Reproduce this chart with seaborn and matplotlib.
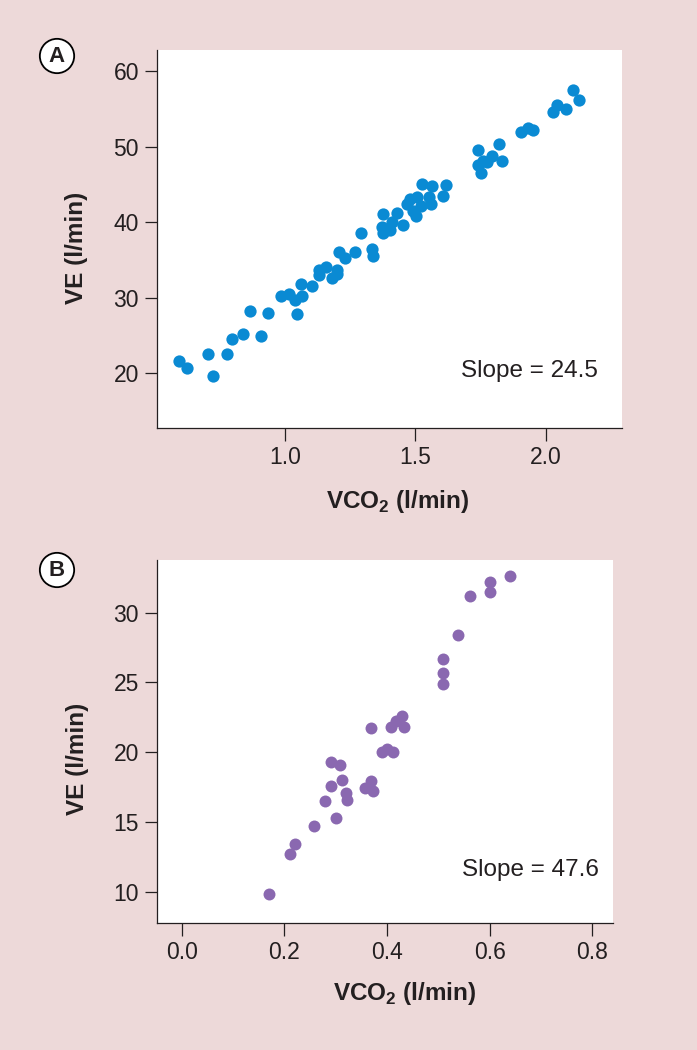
import matplotlib
matplotlib.use("Agg")
import matplotlib.pyplot as plt
import seaborn as sns
import pandas as pd

# panel A data
vco2_a = [0.596, 0.626, 0.724, 0.708, 0.778, 0.798, 0.840, 0.867, 0.908, 0.937,
          0.987, 1.018, 1.038, 1.066, 1.048, 1.064, 1.106, 1.130, 1.130, 1.158,
          1.182, 1.200, 1.200, 1.207, 1.231, 1.268, 1.293, 1.333, 1.339, 1.377,
          1.374, 1.377, 1.403, 1.412, 1.430, 1.452, 1.478, 1.469, 1.492, 1.501,
          1.508, 1.520, 1.524, 1.553, 1.559, 1.565, 1.605, 1.617, 1.739, 1.739,
          1.750, 1.760, 1.775, 1.795, 1.821, 1.830, 1.904, 1.930, 1.951, 2.028,
          2.041, 2.077, 2.102, 2.127]
ve_a = [21.6, 20.7, 19.7, 22.6, 22.5, 24.5, 25.2, 28.2, 24.9, 28.0,
        30.2, 30.5, 29.7, 30.2, 27.9, 31.8, 31.6, 33.0, 33.7, 34.1,
        32.6, 33.1, 33.7, 36.0, 35.2, 36.0, 38.5, 36.5, 35.5, 41.1,
        39.4, 38.5, 38.9, 40.0, 41.2, 39.6, 43.1, 42.4, 41.5, 40.8,
        43.3, 42.1, 45.0, 43.3, 42.4, 44.8, 43.5, 44.9, 49.6, 47.6,
        46.5, 48.1, 47.9, 48.7, 50.3, 48.1, 51.9, 52.4, 52.2, 54.6,
        55.5, 54.9, 57.5, 56.2]

# panel B data
vco2_b = [0.171, 0.210, 0.221, 0.258, 0.300, 0.279, 0.290, 0.290, 0.309, 0.312,
          0.320, 0.322, 0.357, 0.368, 0.372, 0.369, 0.390, 0.400, 0.412, 0.408,
          0.418, 0.429, 0.433, 0.509, 0.509, 0.509, 0.538, 0.561, 0.600, 0.600,
          0.640]
ve_b = [9.8, 12.7, 13.4, 14.7, 15.3, 16.5, 17.6, 19.3, 19.1, 18.0,
        17.1, 16.6, 17.4, 17.9, 17.2, 21.7, 20.0, 20.2, 20.0, 21.8,
        22.2, 22.6, 21.8, 24.9, 25.7, 26.7, 28.4, 31.2, 31.5, 32.2,
        32.6]

ticks_a_x = [1.0, 1.5, 2.0]
ticks_a_y = [20, 30, 40, 50, 60]
ticks_b_x = [0.0, 0.2, 0.4, 0.6, 0.8]
ticks_b_y = [10, 15, 20, 25, 30]
slopes = ["Slope = 24.5", "Slope = 47.6"]

bg = "#edd9d9"
ink = "#231f20"
sns.set_theme(style="ticks")
plt.rcParams["font.family"] = ["Liberation Sans", "DejaVu Sans"]
plt.rcParams["mathtext.fontset"] = "custom"
plt.rcParams["mathtext.rm"] = "Liberation Sans"
plt.rcParams["mathtext.bf"] = "Liberation Sans:bold"
plt.rcParams["text.color"] = ink
plt.rcParams["axes.labelcolor"] = ink
plt.rcParams["xtick.labelcolor"] = ink
plt.rcParams["ytick.labelcolor"] = ink

fig = plt.figure(figsize=(6.97, 10.5), dpi=100, facecolor=bg)
ax_a = fig.add_axes([0.2253, 0.5924, 0.6671, 0.3600])
ax_b = fig.add_axes([0.2253, 0.1207, 0.6542, 0.3460])

df_a = pd.DataFrame({"VCO2": vco2_a, "VE": ve_a})
df_b = pd.DataFrame({"VCO2": vco2_b, "VE": ve_b})

sns.scatterplot(data=df_a, x="VCO2", y="VE", ax=ax_a, color="#0a8ad3", s=78, linewidth=0)
sns.scatterplot(data=df_b, x="VCO2", y="VE", ax=ax_b, color="#8a68b0", s=74, linewidth=0)

ax_a.set_xlim(0.511, 2.291)
ax_a.set_ylim(12.76, 62.77)
ax_b.set_xlim(-0.048, 0.840)
ax_b.set_ylim(7.73, 33.78)

for ax, xt, yt, txt, tx, ty, ylc, xlc in [
        (ax_a, ticks_a_x, ticks_a_y, slopes[0], 0.948, 0.135, (-0.148, 0.4775), (0.518, -0.159)),
        (ax_b, ticks_b_x, ticks_b_y, slopes[1], 0.968, 0.130, (-0.149, 0.452), (0.544, -0.156))]:
    ax.set_facecolor("white")
    ax.set_xticks(xt)
    ax.set_xticklabels(["{:.1f}".format(v) for v in xt])
    ax.set_yticks(yt)
    ax.set_yticklabels([str(v) for v in yt])
    ax.tick_params(direction="out", length=9, width=0.9, labelsize=16.5, pad=4, color=ink)
    for side in ["top", "right"]:
        ax.spines[side].set_visible(False)
    for side in ["left", "bottom"]:
        ax.spines[side].set_linewidth(0.9)
        ax.spines[side].set_color(ink)
    ax.set_xlabel(r"VCO$_\mathbf{2}$ (l/min)", fontsize=17.5, fontweight="bold")
    ax.set_ylabel("VE (l/min)", fontsize=17.5, fontweight="bold")
    ax.yaxis.set_label_coords(*ylc)
    ax.xaxis.set_label_coords(*xlc)
    ax.text(tx, ty, txt, transform=ax.transAxes, ha="right", va="baseline", fontsize=17.5)

for lab, yy in [("A", 1 - 56 / 1050), ("B", 1 - 570 / 1050)]:
    fig.text(57 / 697, yy, lab, ha="center", va="center", fontsize=16, fontweight="bold",
             bbox=dict(boxstyle="circle,pad=0.3", fc="white", ec="black", lw=1.3))

fig.savefig("out.png", dpi=100, facecolor=bg)
